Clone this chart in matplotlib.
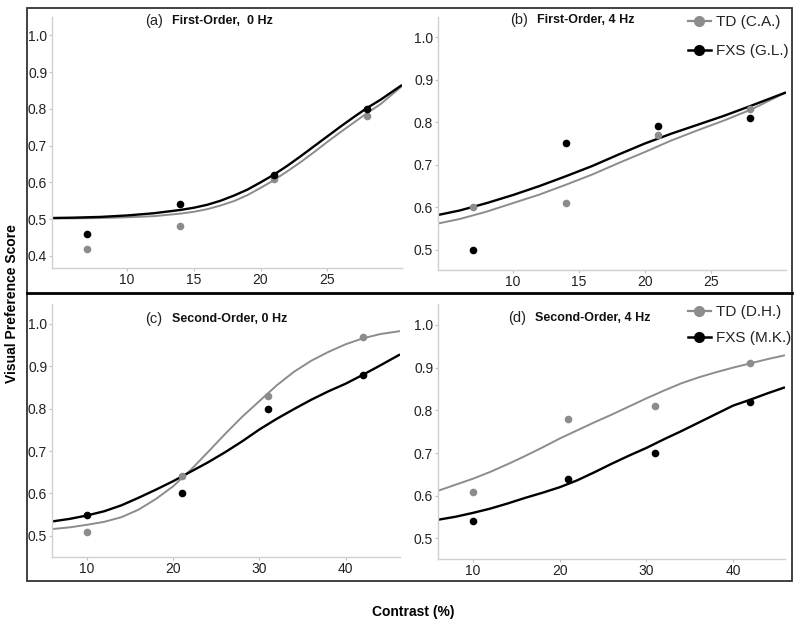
import numpy as np
import matplotlib
matplotlib.use("Agg")
import matplotlib.pyplot as plt
from matplotlib.patches import Rectangle
from matplotlib.lines import Line2D

plt.rcParams["font.family"] = ["Liberation Sans", "DejaVu Sans"]

# measured points
x_first = [7, 14, 21, 28]
x_second = [10, 21, 31, 42]
a_td = [0.42, 0.48, 0.61, 0.78]
a_fxs = [0.46, 0.54, 0.62, 0.80]
b_td = [0.60, 0.61, 0.77, 0.83]
b_fxs = [0.50, 0.75, 0.79, 0.81]
c_td = [0.51, 0.64, 0.83, 0.97]
c_fxs = [0.55, 0.60, 0.80, 0.88]
d_td = [0.61, 0.78, 0.81, 0.91]
d_fxs = [0.54, 0.64, 0.70, 0.82]

# fitted curves
a_cx = [4.4, 6, 8, 10, 12, 14, 15, 16, 17, 18, 19, 20, 21, 22, 23, 24, 25, 26, 27, 28, 29, 30.6]
a_ctd = [0.502, 0.502, 0.503, 0.505, 0.508, 0.515, 0.520, 0.527, 0.537, 0.549, 0.565, 0.585, 0.606,
         0.630, 0.655, 0.682, 0.710, 0.737, 0.763, 0.789, 0.813, 0.862]
a_cfxs = [0.503, 0.504, 0.506, 0.510, 0.516, 0.525, 0.531, 0.539, 0.550, 0.564, 0.580, 0.600, 0.621,
          0.645, 0.671, 0.698, 0.725, 0.752, 0.778, 0.803, 0.825, 0.865]

b_cx = [4.3, 6, 8, 10, 12, 14, 16, 18, 20, 22, 24, 26, 28, 30.7]
b_ctd = [0.562, 0.573, 0.590, 0.610, 0.630, 0.653, 0.677, 0.704, 0.730, 0.757, 0.781, 0.804, 0.829, 0.870]
b_cfxs = [0.582, 0.593, 0.610, 0.629, 0.650, 0.673, 0.697, 0.724, 0.750, 0.773, 0.794, 0.815, 0.838, 0.870]

c_cx = [6, 8, 10, 12, 14, 16, 18, 20, 22, 24, 26, 28, 30, 32, 34, 36, 38, 40, 42, 44, 46.3]
c_ctd = [0.516, 0.520, 0.526, 0.533, 0.544, 0.562, 0.587, 0.617, 0.655, 0.697, 0.740, 0.781, 0.818,
         0.855, 0.887, 0.913, 0.934, 0.952, 0.966, 0.976, 0.983]
c_cfxs = [0.534, 0.540, 0.548, 0.558, 0.572, 0.590, 0.609, 0.629, 0.651, 0.673, 0.697, 0.723, 0.751,
          0.776, 0.799, 0.821, 0.841, 0.859, 0.880, 0.902, 0.928]

d_cx = [6, 8, 10, 12, 14, 16, 18, 20, 22, 24, 26, 28, 30, 32, 34, 36, 38, 40, 42, 44, 46]
d_ctd = [0.612, 0.626, 0.640, 0.656, 0.674, 0.693, 0.713, 0.734, 0.753, 0.772, 0.790, 0.809, 0.828,
         0.846, 0.863, 0.877, 0.889, 0.900, 0.910, 0.920, 0.929]
d_cfxs = [0.544, 0.551, 0.560, 0.570, 0.582, 0.595, 0.607, 0.620, 0.636, 0.655, 0.675, 0.694, 0.712,
          0.732, 0.751, 0.771, 0.791, 0.811, 0.825, 0.840, 0.854]

W, H = 800, 624
GRAY = "#8c8c8c"
fig = plt.figure(figsize=(W / 100, H / 100), dpi=100)


def px_axes(l, r, t, b):
    return fig.add_axes([l / W, 1 - b / H, (r - l) / W, (b - t) / H])


def style(ax, xlim, ylim, xt):
    ax.set_xticks(xt)
    ax.set_yticks([0.4, 0.5, 0.6, 0.7, 0.8, 0.9, 1.0])
    ax.set_xlim(*xlim)
    ax.set_ylim(*ylim)
    ax.yaxis.set_major_formatter(matplotlib.ticker.FormatStrFormatter("%.1f"))
    for s in ["top", "right"]:
        ax.spines[s].set_visible(False)
    for s in ["left", "bottom"]:
        ax.spines[s].set_color("#d0d0d0")
        ax.spines[s].set_linewidth(1.0)
    ax.tick_params(colors="#c0c0c0", labelcolor="#222222", labelsize=10, length=2, width=0.8, pad=1.5)
    ax.patch.set_alpha(0)


panels = [
    (px_axes(52, 402, 17, 268), (4.37, 30.6), (0.367, 1.05), [10, 15, 20, 25],
     x_first, a_td, a_fxs, a_cx, a_ctd, a_cfxs, "(a)", "First-Order,  0 Hz", 145, 21),
    (px_axes(438, 786, 17, 270), (4.32, 30.7), (0.453, 1.047), [10, 15, 20, 25],
     x_first, b_td, b_fxs, b_cx, b_ctd, b_cfxs, "(b)", "First-Order, 4 Hz", 510, 20),
    (px_axes(52, 400, 304, 557), (5.94, 46.3), (0.45, 1.047), [10, 20, 30, 40],
     x_second, c_td, c_fxs, c_cx, c_ctd, c_cfxs, "(c)", "Second-Order, 0 Hz", 145, 319),
    (px_axes(438, 785, 304, 559), (5.96, 46.0), (0.452, 1.049), [10, 20, 30, 40],
     x_second, d_td, d_fxs, d_cx, d_ctd, d_cfxs, "(d)", "Second-Order, 4 Hz", 508, 318),
]

for ax, xl, yl, xt, xp, td, fxs, cx, ctd, cfxs, tag, title, tx, ty in panels:
    style(ax, xl, yl, xt)
    ax.plot(cx, ctd, color=GRAY, lw=1.4, solid_capstyle="butt")
    ax.plot(cx, cfxs, color="black", lw=1.7, solid_capstyle="butt")
    ax.plot(xp, td, "o", color=GRAY, ms=5.5, mec="none")
    ax.plot(xp, fxs, "o", color="black", ms=5.5, mec="none")
    fig.text(tx / W, 1 - ty / H, tag, fontsize=10.5, ha="left", va="center", color="#222222")
    fig.text((tx + 27) / W, 1 - ty / H, title, fontsize=9, fontweight="bold",
             ha="left", va="center", color="#111111")

# legends
for labels, y0, sp in [(["TD (C.A.)", "FXS (G.L.)"], 22, 1.0), (["TD (D.H.)", "FXS (M.K.)"], 312, 0.8)]:
    handles = [Line2D([], [], color=GRAY, lw=1.6, marker="o", ms=8, mec="none"),
               Line2D([], [], color="black", lw=1.8, marker="o", ms=8, mec="none")]
    fig.legend(handles, labels, loc="upper left", bbox_to_anchor=(688 / W, 1 - (y0 - 7) / H),
               frameon=False, fontsize=11, handlelength=1.5, handletextpad=0.35,
               labelspacing=sp, borderpad=0, borderaxespad=0, labelcolor="#222222")

# outer frame
fig.patches.append(Rectangle((27 / W, 1 - 581 / H), (792 - 27) / W, (581 - 8) / H,
                             transform=fig.transFigure, fill=False, lw=1.3, ec="#333333"))
fig.lines.append(Line2D([27 / W, 792 / W], [1 - 293 / H, 1 - 293 / H],
                        transform=fig.transFigure, color="black", lw=2.0))

fig.text(12 / W, 1 - 304 / H, "Visual Preference Score", rotation=90, fontsize=10,
         fontweight="bold", ha="center", va="center")
fig.text(413 / W, 1 - 612 / H, "Contrast (%)", fontsize=10, fontweight="bold",
         ha="center", va="center")

fig.savefig("out.png", dpi=100)
